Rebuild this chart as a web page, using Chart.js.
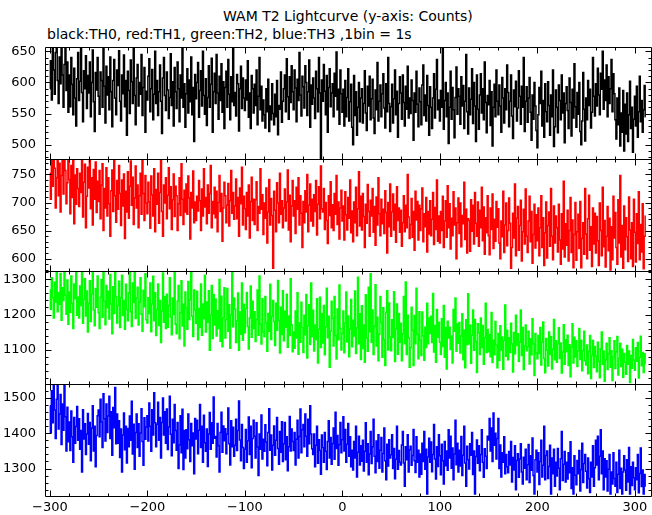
<!DOCTYPE html>
<html>
<head>
<meta charset="utf-8">
<script src="https://cdn.jsdelivr.net/npm/chart.js@4"></script>
<style>
  body { margin: 0; background: #fff; width: 652px; height: 515px; position: relative; overflow: hidden; font-family: "DejaVu Sans", sans-serif; }
  canvas { position: absolute; left: 0; top: 0; }
  .txt { position: absolute; white-space: nowrap; font-size: 14px; color: #000; line-height: 16px; }
</style>
</head>
<body>
<div class="txt" style="left:223px; top:8px">WAM T2 Lightcurve (y-axis: Counts)</div>
<div class="txt" style="left:47px; top:26px">black:TH0, red:TH1, green:TH2, blue:TH3 ,1bin = 1s</div>
<canvas id="c0" width="652" height="515"></canvas>
<canvas id="c1" width="652" height="515"></canvas>
<canvas id="c2" width="652" height="515"></canvas>
<canvas id="c3" width="652" height="515"></canvas>
<script>
// first bin time in seconds, one value per 1 s bin
const firstBin = -300;

// counts per bin
const th0 = [
  590,635,572,656,620,581,648,657,603,566, 641,598,657,612,560,629,657,587,633,552,
  612,561,640,597,548,623,575,530,606,648, 571,602,655,584,537,619,590,643,558,611,
  583,633,545,600,652,569,521,616,588,640, 578,549,617,603,560,657,594,535,626,580,
  609,556,641,585,529,603,637,575,548,620, 595,651,570,538,612,582,644,561,603,515,
  618,587,550,636,601,566,657,579,532,607, 629,562,600,581,645,547,592,624,520,586,
  572,610,638,553,590,621,540,581,650,566, 603,547,585,628,570,518,607,640,579,555,
  617,588,542,576,646,563,601,530,624,585, 558,633,590,537,612,575,657,560,598,528,
  582,622,551,604,569,641,548,592,505,613, 574,600,632,544,587,619,562,650,579,549,
  606,531,576,627,560,597,639,520,585,615, 566,645,583,541,610,571,630,552,601,526,
  592,618,560,637,581,540,609,569,655,563, 584,546,613,598,522,590,626,558,607,575,
  555,604,572,635,544,583,526,611,590,551, 597,563,620,532,578,640,556,594,538,572,
  548,527,590,553,605,521,562,540,598,550, 532,581,545,603,516,563,557,617,536,570,
  590,612,553,638,577,541,609,568,627,585, 556,620,591,537,605,571,648,580,546,610,
  593,559,627,600,547,585,636,528,596,565, 607,575,542,618,590,553,640,583,478,604,
  570,629,586,548,611,520,592,622,561,583, 598,545,615,578,649,556,589,533,620,582,
  552,589,530,603,545,576,622,538,569,597, 528,500,611,547,585,515,560,600,537,575,
  590,535,566,619,551,523,594,562,610,540, 574,605,543,518,588,556,632,538,570,596,
  545,582,614,559,527,598,553,640,566,521, 561,597,535,574,620,548,586,512,566,609,
  583,541,612,568,530,594,557,626,543,575, 550,604,571,507,583,552,618,565,529,591,
  569,532,596,628,547,580,538,611,563,515, 593,560,526,575,614,543,589,637,556,572,
  538,587,560,656,525,571,600,545,583,502, 560,618,541,592,556,511,576,625,549,590,
  578,533,609,562,595,526,570,645,553,517, 591,548,573,622,534,600,562,505,612,557,
  525,580,614,551,590,540,633,568,519,579, 564,603,531,585,498,560,597,545,620,570,
  548,596,562,520,608,575,535,590,556,628, 584,529,570,612,546,510,588,561,602,538,
  559,619,578,533,594,560,640,521,570,593, 536,575,608,552,507,580,541,600,562,523,
  495,548,592,566,618,530,571,512,598,553, 537,601,563,515,580,545,620,497,529,588,
  560,519,596,571,540,612,551,583,503,566, 593,555,526,607,568,514,589,543,630,561,
  528,584,549,600,521,500,538,616,557,506, 575,540,603,563,589,527,552,640,578,546,
  598,562,623,580,548,615,589,650,557,604, 571,628,545,609,566,590,637,553,614,582,
  540,509,575,532,591,498,551,520,587,490, 565,517,583,505,548,602,526,560,488,541,
  578,530,594,512,553,610,537,571,520,556, 595,545
];
const th1 = [
  752,706,777,729,777,761,690,744,777,712, 770,683,748,777,715,777,757,698,735,777,
  741,680,766,709,777,662,749,697,760,725, 693,752,718,777,674,736,768,655,711,763,
  726,777,689,744,660,759,706,772,682,738, 702,757,671,731,769,650,725,690,762,676,
  744,698,640,721,758,684,777,712,665,739, 688,766,716,659,740,694,751,636,720,683,
  755,672,729,774,695,745,661,708,765,690, 731,655,712,752,679,777,716,668,748,699,
  680,736,701,654,747,714,676,760,648,723, 697,752,663,718,777,684,640,731,699,744,
  671,713,762,689,728,652,705,751,675,729, 712,650,698,744,677,769,706,661,722,683,
  733,679,747,708,635,718,690,756,664,701, 668,711,685,739,703,650,724,676,760,692,
  709,662,731,681,716,766,655,702,680,727, 673,720,648,700,748,684,716,631,690,736,
  712,664,695,734,658,703,757,681,718,670, 694,742,671,709,640,726,698,763,660,711,
  689,652,718,676,731,637,702,745,668,706, 661,705,737,650,693,681,760,688,714,643,
  699,672,726,628,683,741,660,707,677,583, 720,686,648,735,699,664,752,679,703,655,
  690,724,667,701,758,651,713,630,694,739, 676,703,645,727,688,744,660,712,681,620,
  702,664,721,683,750,648,695,733,667,706, 658,714,684,739,642,697,728,671,765,689,
  683,725,652,700,668,627,712,677,737,655, 696,650,716,679,748,661,701,635,690,722,
  667,694,633,719,678,651,709,672,740,646, 685,630,701,664,727,641,689,755,658,711,
  651,716,675,620,697,663,732,684,640,704, 676,725,647,693,624,710,660,744,680,641,
  706,662,688,645,721,682,610,700,657,733, 640,683,715,651,697,629,728,668,690,647,
  686,622,664,712,648,695,655,750,674,636, 661,707,638,684,615,720,669,702,633,695,
  650,689,726,630,680,657,709,612,684,644, 703,641,670,718,625,691,652,740,631,676,
  628,684,650,711,620,667,703,638,730,655, 698,617,672,641,719,660,690,600,664,708,
  645,699,621,677,662,736,634,688,610,671, 668,613,705,649,695,626,718,663,640,701,
  622,686,655,727,632,692,608,673,646,712, 641,607,690,652,715,618,670,631,702,656,
  689,628,600,667,639,720,611,660,699,623, 650,708,663,583,620,681,637,733,605,672,
  693,615,659,704,596,648,688,626,724,640, 611,667,711,630,684,592,643,697,619,678,
  632,690,605,655,712,620,673,588,646,701, 601,659,683,622,725,640,598,694,628,676,
  655,612,697,633,590,680,617,738,603,662, 624,686,596,650,709,611,669,584,643,700,
  597,648,679,618,702,584,636,664,608,725, 644,600,671,713,615,657,586,690,626,681,
  610,675,632,588,699,650,605,727,621,668, 585,640,693,614,672,580,657,598,711,637,
  682,620,590,705,628,748,603,659,583,694, 616,673,639,595,710,651,600,664,586,706,
  647,594,680,627,719,598,661,612,698,582, 640,676
];
const th2 = [
  1270,1215,1305,1248,1190,1292,1236,1324,1208,1263, 1229,1317,1184,1276,1240,1324,1255,1201,1298,1172,
  1264,1206,1310,1232,1160,1287,1245,1319,1198,1250, 1190,1281,1226,1324,1175,1243,1302,1196,1267,1150,
  1232,1296,1180,1258,1324,1213,1168,1274,1221,1310, 1205,1160,1249,1300,1192,1324,1238,1171,1283,1219,
  1266,1187,1314,1230,1145,1279,1203,1324,1251,1176, 1226,1295,1163,1248,1312,1197,1240,1158,1286,1214,
  1182,1262,1320,1208,1166,1290,1234,1324,1189,1247, 1278,1170,1236,1305,1201,1152,1269,1222,1316,1185,
  1176,1248,1203,1290,1151,1230,1309,1182,1262,1140, 1214,1287,1169,1240,1120,1210,1318,1178,1251,1160,
  1258,1164,1226,1305,1193,1142,1247,1200,1324,1172, 1145,1238,1283,1131,1205,1296,1167,1229,1110,1264,
  1219,1158,1294,1186,1242,1324,1195,1137,1270,1213, 1175,1266,1128,1217,1163,1287,1141,1230,1188,1312,
  1150,1236,1178,1268,1098,1198,1283,1132,1257,1170, 1244,1139,1211,1160,1300,1124,1252,1108,1190,1276,
  1133,1186,1274,1152,1228,1104,1199,1320,1165,1247, 1216,1120,1182,1261,1098,1207,1144,1290,1127,1229,
  1148,1217,1263,1166,1102,1190,1281,1135,1238,1160, 1208,1123,1185,1270,1141,1310,1172,1116,1245,1150,
  1137,1251,1176,1095,1203,1152,1286,1129,1194,1240, 1180,1112,1232,1155,1297,1183,1090,1221,1143,1268,
  1125,1209,1164,1258,1107,1196,1140,1302,1171,1094, 1150,1104,1210,1133,1262,1087,1176,1121,1235,1163,
  1092,1198,1142,1257,1076,1168,1228,1115,1290,1137, 1212,1096,1170,1129,1245,1062,1158,1249,1106,1203,
  1119,1226,1085,1165,1275,1134,1195,1050,1152,1238, 1189,1110,1251,1140,1073,1216,1128,1284,1160,1099,
  1146,1210,1091,1175,1264,1122,1196,1080,1158,1243, 1108,1184,1139,1267,1089,1162,1306,1117,1202,1072,
  1225,1103,1170,1064,1256,1133,1095,1278,1151,1316, 1121,1213,1086,1167,1285,1110,1192,1068,1144,1251,
  1177,1078,1219,1128,1055,1206,1268,1099,1233,1136, 1097,1185,1135,1265,1066,1159,1230,1087,1203,1121,
  1175,1068,1145,1251,1117,1293,1086,1198,1134,1050, 1106,1221,1155,1055,1197,1117,1275,1143,1074,1208,
  1127,1083,1207,1139,1070,1164,1106,1232,1117,1190, 1146,1195,1120,1260,1093,1169,1064,1214,1135,1178,
  1121,1086,1188,1109,1226,1078,1163,1045,1181,1133, 1164,1100,1139,1062,1214,1152,1247,1095,1173,1118,
  1177,1090,1139,1202,1071,1156,1048,1185,1114,1259, 1117,1170,1061,1141,1213,1098,1186,1123,1035,1174,
  1148,1086,1190,1106,1169,1058,1134,1232,1092,1157, 1094,1143,1080,1206,1063,1127,1085,1180,1113,1048,
  1146,1070,1168,1099,1136,1044,1126,1227,1081,1155, 1071,1134,1092,1175,1117,1036,1149,1088,1198,1112,
  1145,1067,1121,1213,1083,1163,1043,1111,1170,1097, 1108,1152,1059,1131,1085,1188,1116,1026,1146,1090,
  1074,1140,1089,1163,1056,1121,1179,1075,1034,1132, 1098,1053,1150,1086,1137,1045,1102,1186,1071,1125,
  1064,1117,1162,1075,1119,1033,1093,1171,1058,1128, 1094,1141,1055,1114,1023,1108,1174,1062,1135,1079,
  1125,1052,1096,1160,1072,1127,1040,1097,1152,1068, 1056,1113,1031,1095,1140,1018,1083,1126,1049,1109,
  1082,1037,1121,1067,1020,1102,1150,1058,1096,1010, 1071,1118,1043,1088,1134,1050,1097,1012,1079,1125,
  1046,1093,1137,1028,1075,1118,1052,1101,1021,1089, 1064,1030,1112,1058,1096,1006,1083,1047,1129,1070,
  1041,1105,1067,1120,1019,1078,1138,1054,1092,1035, 1088,1060
];
const th3 = [
  1478,1402,1521,1430,1540,1466,1385,1497,1540,1412, 1455,1510,1368,1483,1409,1535,1447,1350,1474,1376,
  1432,1351,1463,1390,1318,1445,1372,1419,1476,1380, 1441,1355,1408,1290,1467,1384,1427,1340,1398,1456,
  1369,1431,1322,1415,1478,1350,1420,1305,1394,1450, 1466,1390,1497,1432,1360,1512,1441,1378,1483,1402,
  1449,1505,1385,1461,1338,1473,1416,1530,1370,1455, 1372,1436,1331,1412,1290,1395,1458,1353,1420,1316,
  1414,1362,1449,1380,1491,1341,1426,1298,1402,1455, 1360,1427,1335,1401,1470,1377,1309,1444,1383,1418,
  1450,1378,1486,1420,1349,1467,1395,1515,1430,1362, 1426,1488,1380,1445,1330,1431,1500,1395,1461,1372,
  1469,1354,1418,1505,1397,1336,1440,1373,1482,1408, 1352,1431,1300,1367,1450,1345,1468,1297,1408,1330,
  1410,1356,1455,1382,1320,1428,1365,1401,1285,1442, 1384,1437,1342,1409,1482,1360,1420,1318,1451,1373,
  1349,1412,1306,1398,1459,1355,1430,1372,1503,1386, 1391,1333,1428,1365,1290,1402,1460,1346,1421,1379,
  1413,1342,1398,1472,1370,1310,1436,1362,1417,1335, 1366,1440,1351,1408,1492,1381,1322,1425,1360,1300,
  1355,1411,1318,1379,1446,1340,1420,1302,1385,1437, 1392,1330,1430,1361,1280,1398,1355,1452,1327,1383,
  1349,1424,1375,1308,1402,1470,1352,1395,1296,1366, 1421,1338,1380,1445,1357,1312,1405,1346,1433,1320,
  1370,1431,1325,1390,1294,1362,1448,1350,1412,1377, 1351,1402,1310,1383,1437,1330,1391,1469,1345,1410,
  1425,1362,1455,1392,1335,1440,1370,1478,1398,1356, 1340,1398,1305,1366,1420,1315,1382,1351,1284,1395,
  1360,1318,1402,1349,1297,1377,1436,1330,1388,1312, 1371,1415,1326,1460,1357,1394,1309,1368,1431,1345,
  1382,1447,1350,1411,1318,1369,1428,1335,1390,1305, 1352,1296,1377,1330,1420,1276,1346,1392,1310,1365,
  1321,1380,1293,1349,1430,1318,1370,1282,1341,1405, 1314,1362,1440,1335,1288,1378,1320,1396,1301,1352,
  1388,1290,1343,1415,1322,1268,1369,1307,1382,1330, 1339,1396,1300,1357,1271,1326,1420,1298,1351,1318,
  1310,1367,1405,1316,1250,1362,1325,1396,1290,1353, 1363,1309,1337,1411,1322,1289,1390,1318,1352,1276,
  1341,1284,1372,1320,1405,1298,1355,1228,1333,1386, 1318,1375,1291,1340,1425,1327,1270,1362,1306,1396,
  1336,1282,1369,1322,1256,1377,1308,1350,1295,1410, 1330,1392,1301,1358,1268,1341,1437,1311,1372,1290,
  1352,1307,1391,1280,1338,1420,1316,1250,1363,1325, 1299,1370,1338,1402,1283,1350,1228,1334,1381,1315,
  1365,1294,1340,1410,1318,1275,1356,1335,1300,1392, 1381,1442,1350,1415,1320,1458,1366,1400,1327,1385,
  1442,1300,1367,1276,1345,1318,1390,1285,1340,1305, 1288,1348,1310,1377,1262,1331,1296,1365,1240,1323,
  1342,1275,1327,1370,1290,1256,1332,1301,1355,1268, 1311,1368,1260,1336,1295,1387,1280,1228,1325,1352,
  1290,1345,1255,1320,1380,1276,1309,1420,1268,1337, 1350,1272,1306,1366,1228,1330,1285,1355,1250,1318,
  1279,1357,1301,1240,1328,1405,1266,1312,1348,1262, 1318,1270,1345,1288,1376,1243,1302,1228,1336,1281,
  1254,1323,1285,1351,1236,1297,1372,1260,1314,1340, 1292,1245,1330,1271,1232,1318,1276,1365,1250,1302,
  1380,1310,1392,1268,1335,1410,1285,1350,1240,1328, 1276,1322,1236,1298,1340,1228,1290,1256,1345,1272,
  1250,1318,1232,1284,1352,1243,1301,1228,1290,1336, 1296,1238,1325,1262,1360,1228,1305,1252,1318,1274,
  1240,1302,1268,1340,1231,1286,1358,1249,1296,1228, 1283,1250
];

const series = [th0, th1, th2, th3];
const colors = ["#000000", "#ff0000", "#00ff00", "#0000ff"];

// axis limits per panel and labelled ticks
const yMin = [477, 578, 1002, 1222];
const yMax = [657, 777.5, 1324, 1540];
const yLabels = [[500, 550, 600, 650], [600, 650, 700, 750], [1100, 1200, 1300], [1300, 1400, 1500]];
const yMinor = [10, 10, 20, 20];
const yMajor = [50, 50, 100, 100];
const xMin = -305, xMax = 316.5;
const xLabels = [-300, -200, -100, 0, 100, 200, 300];

// panel edges on the page (px)
const edges = [47, 159, 271, 384, 496];

const tickFont = { family: "DejaVu Sans", size: 13 };

// PGPLOT style box: frame plus inward ticks on all four sides
const frameTicks = {
  id: "frameTicks",
  afterDatasetsDraw(chart, args, opts) {
    const { ctx, chartArea: a, scales: { x, y } } = chart;
    const L = Math.round(a.left) + 0.5, R = Math.round(a.right) + 0.5;
    const T = Math.round(a.top) + 0.5, B = Math.round(a.bottom) + 0.5;
    ctx.save();
    ctx.strokeStyle = "#000";
    ctx.lineWidth = 1;
    ctx.beginPath();
    ctx.rect(L, T, R - L, B - T);
    for (let v = -300; v <= xMax; v += 20) {
      const px = Math.round(x.getPixelForValue(v)) + 0.5;
      const len = v % 100 === 0 ? 6 : 3;
      ctx.moveTo(px, B); ctx.lineTo(px, B - len);
      ctx.moveTo(px, T); ctx.lineTo(px, T + len);
    }
    const step = opts.minor, big = opts.major;
    for (let v = Math.ceil(y.min / step) * step; v <= y.max; v += step) {
      const py = Math.round(y.getPixelForValue(v)) + 0.5;
      const len = v % big === 0 ? 6 : 3;
      ctx.moveTo(L, py); ctx.lineTo(L + len, py);
      ctx.moveTo(R, py); ctx.lineTo(R - len, py);
    }
    ctx.stroke();
    ctx.restore();
  }
};

function makePanel(k) {
  const bottom = k === 3;
  const values = series[k];
  return new Chart(document.getElementById("c" + k), {
    type: "line",
    data: {
      datasets: [{
        data: values.map((v, i) => ({ x: firstBin + i, y: v })),
        borderColor: colors[k],
        borderWidth: 1.5,
        pointRadius: 0,
        stepped: "middle",
        fill: false,
        clip: 0
      }]
    },
    options: {
      responsive: false,
      animation: false,
      devicePixelRatio: 1,
      layout: { padding: { top: edges[k], bottom: bottom ? 0 : 515 - edges[k + 1], left: 0, right: 1 } },
      plugins: { legend: { display: false }, tooltip: { enabled: false }, frameTicks: { minor: yMinor[k], major: yMajor[k] } },
      scales: {
        x: {
          type: "linear", min: xMin, max: xMax, display: bottom,
          grid: { display: false, drawTicks: false }, border: { display: false },
          afterBuildTicks: s => { s.ticks = xLabels.map(v => ({ value: v })); },
          afterFit: s => { s.height = bottom ? 19 : 0; s.paddingLeft = 0; s.paddingRight = 0; },
          ticks: { font: tickFont, color: "#000", padding: 4, maxRotation: 0, autoSkip: false,
                   callback: v => String(v).replace("-", "\u2212") }
        },
        y: {
          min: yMin[k], max: yMax[k],
          grid: { display: false, drawTicks: false }, border: { display: false },
          afterBuildTicks: s => { s.ticks = yLabels[k].map(v => ({ value: v })); },
          afterFit: s => { s.width = 45; s.paddingTop = 0; s.paddingBottom = 0; },
          ticks: { font: tickFont, color: "#000", padding: 9, callback: v => String(v) }
        }
      }
    },
    plugins: [frameTicks]
  });
}

[0, 1, 2, 3].forEach(makePanel);
</script>
</body>
</html>
